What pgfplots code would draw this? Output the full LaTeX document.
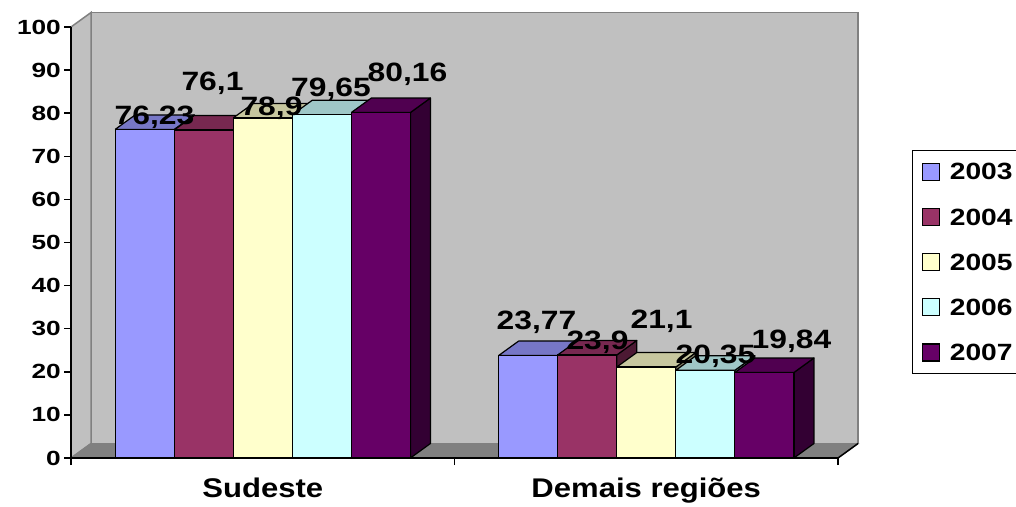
\documentclass[border=0pt]{standalone}
\usepackage{fontspec}
\setmainfont{Liberation Sans}
\newfontfamily\tickfont{Liberation Sans}[FakeStretch=1.28]
\newfontfamily\labfont{Liberation Sans}[FakeStretch=1.2]
\newfontfamily\catfont{Liberation Sans}[FakeStretch=1.15]
\usepackage{pgfplots}
\usepackage{pgfplotstable}
\pgfplotsset{compat=1.18}

\definecolor{c03}{HTML}{9999FF}
\definecolor{c04}{HTML}{993366}
\definecolor{c05}{HTML}{FFFFCC}
\definecolor{c06}{HTML}{CCFFFF}
\definecolor{c07}{HTML}{660066}
\definecolor{wallgray}{HTML}{C0C0C0}
\definecolor{floorgray}{HTML}{808080}

% bar width and depth offset of the 3-D bars (axis units)
\def\bw{0.154}
\def\dx{0.0522}
\def\dy{3.36}

% x0 = left edge of the front face, v = value, (lx,ly) = label position
\pgfplotstableread{
x0     v      col  lx      ly
0.115  76.23  c03  0.2177  77.49
0.269  76.1   c04  0.3690  85.15
0.423  78.9   c05  0.5228  79.58
0.577  79.65  c06  0.6780  83.76
0.731  80.16  c07  0.8774  87.24
1.115  23.77  c03  1.2138  29.93
1.269  23.9   c04  1.3729  25.06
1.423  21.1   c05  1.5398  30.16
1.577  20.35  c06  1.6806  22.04
1.731  19.84  c07  1.8787  25.52
}\bars

\pgfplotsset{barface/.style={forget plot, draw=black, line width=1.2pt, line join=round, mark=none}}

% one 3-D bar: side, top and front faces
\newcommand\dbar[3]{%
  \pgfmathsetmacro\xa{#1}%
  \pgfmathsetmacro\xb{#1+\bw}%
  \pgfmathsetmacro\xc{#1+\dx}%
  \pgfmathsetmacro\xd{#1+\bw+\dx}%
  \pgfmathsetmacro\yt{#2+\dy}%
  \addplot[barface, fill=#3!50!black] coordinates {(\xb,0) (\xd,\dy) (\xd,\yt) (\xb,#2) (\xb,0)};
  \addplot[barface, fill=#3!78!black] coordinates {(\xa,#2) (\xb,#2) (\xd,\yt) (\xc,\yt) (\xa,#2)};
  \addplot[barface, fill=#3] coordinates {(\xa,0) (\xb,0) (\xb,#2) (\xa,#2) (\xa,0)};
}

\newcommand\yr[1]{\makebox[76pt][l]{#1}}

\begin{document}
\begin{tikzpicture}
\begin{axis}[
  at={(71pt,48pt)}, anchor=south west,
  width=767pt, height=431pt, scale only axis,
  xmin=0, xmax=2, ymin=0, ymax=100,
  clip=false, axis on top,
  axis x line*=bottom, axis y line*=left,
  axis line style={black, line width=1.5pt, -},
  tick align=outside, major tick length=7pt,
  tick style={black, line width=1.5pt},
  ytick={0,10,...,100},
  xtick={0,1,2}, xticklabels={},
  /pgf/number format/assume math mode=true,
  yticklabel style={font=\tickfont\bfseries\fontsize{20.5}{23}\selectfont, inner sep=0pt, xshift=-3pt},
  extra x ticks={0.5,1.5},
  extra x tick labels={Sudeste, Demais regiões},
  extra x tick style={major tick length=0pt,
    xticklabel style={font=\catfont\bfseries\fontsize{27}{30}\selectfont, inner sep=0pt, anchor=north, yshift=-20pt}},
  legend style={at={(1.0965,0.7146)}, anchor=north west, draw=black, line width=1.2pt, fill=white,
    font=\labfont\bfseries\fontsize{23.5}{26}\selectfont,
    inner xsep=9pt, inner ysep=12pt, row sep=27pt,
    nodes={inner sep=0pt, text height=16.5pt, text depth=0pt},
    /tikz/every odd column/.append style={column sep=10pt}},
  legend cell align=left,
  legend image code/.code={\draw[#1, draw=black, line width=1.2pt] (0pt,-8.5pt) rectangle (17pt,8.5pt);},
]
\addlegendimage{fill=c03}\addlegendentry{\yr{2003}}
\addlegendimage{fill=c04}\addlegendentry{\yr{2004}}
\addlegendimage{fill=c05}\addlegendentry{\yr{2005}}
\addlegendimage{fill=c06}\addlegendentry{\yr{2006}}
\addlegendimage{fill=c07}\addlegendentry{\yr{2007}}

% walls and floor
\addplot[forget plot, fill=wallgray, draw=floorgray, line width=1.5pt] coordinates
  {(0.0522,3.36) (2.0522,3.36) (2.0522,103.36) (0.0522,103.36) (0.0522,3.36)};
\addplot[forget plot, fill=wallgray, draw=floorgray, line width=1.5pt] coordinates
  {(0,0) (0,100) (0.0522,103.36) (0.0522,3.36) (0,0)};
\addplot[forget plot, fill=floorgray, draw=floorgray, line width=1pt] coordinates
  {(0,0) (2,0) (2.0522,3.36) (0.0522,3.36) (0,0)};
\addplot[forget plot, draw=black, line width=1.5pt] coordinates {(2,0) (2.0522,3.36)};

% bars, drawn left to right
\pgfplotsforeachungrouped \i in {0,...,9}{%
  \pgfplotstablegetelem{\i}{x0}\of\bars \let\bx\pgfplotsretval
  \pgfplotstablegetelem{\i}{v}\of\bars \let\bv\pgfplotsretval
  \pgfplotstablegetelem{\i}{col}\of\bars \let\bc\pgfplotsretval
  \edef\next{\noexpand\dbar{\bx}{\bv}{\bc}}\next
}

% value labels
\addplot[forget plot, only marks, mark=*, mark size=0pt, mark options={draw=none, fill=none},
  point meta=explicit,
  nodes near coords={\pgfmathprintnumber[use comma, fixed, precision=2, assume math mode=true]{\pgfplotspointmeta}},
  every node near coord/.append style={anchor=base, inner sep=0pt, text=black,
    font=\labfont\bfseries\fontsize{26.5}{30}\selectfont}]
  table[x=lx, y=ly, meta=v] {\bars};
\end{axis}
\pgfresetboundingbox
\useasboundingbox (0,0) rectangle (1016pt,506pt);
\end{tikzpicture}
\end{document}
